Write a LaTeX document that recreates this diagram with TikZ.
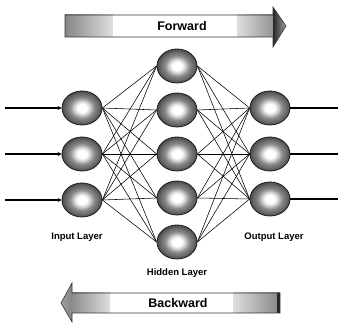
\documentclass[tikz,border=0pt]{standalone}
\usepackage{fontspec}
\setmainfont{Liberation Sans}
\usetikzlibrary{shapes.geometric,arrows.meta}

% grey ball with a soft white core
\pgfdeclareradialshading{neuronball}{\pgfpoint{0bp}{0bp}}{%
  color(0bp)=(white); color(6bp)=(white); color(11bp)=(gray!45);
  color(15bp)=(gray!90); color(21bp)=(gray!80!black); color(25bp)=(gray!60!black);
  color(50bp)=(gray!60!black)}

\tikzset{
  neuron/.style={ellipse, draw=black!90, line width=0.8pt,
    minimum width=40pt, minimum height=34pt, inner sep=0pt, shading=neuronball},
  link/.style={draw=black, line width=0.55pt},
  feed/.style={draw=black, line width=1.6pt},
  layerlabel/.style={font=\bfseries\fontsize{9.5}{10}\selectfont, inner sep=0pt},
  arrowlabel/.style={font=\bfseries\fontsize{12.5}{13}\selectfont, inner sep=0pt},
  shell/.style={draw=black!80, line width=0.6pt}
}

\begin{document}
\begin{tikzpicture}[x=1pt,y=-1pt]
\useasboundingbox (0,0) rectangle (338,323);

% ---- Forward arrow ----
\shade[left color=gray!95, right color=gray!25] (65,15) rectangle (113,37);
\fill[white] (113,15) rectangle (237,37);
\shade[left color=gray!25, right color=gray!85] (237,15) rectangle (273,37);
\shade[left color=black!85, right color=gray!75] (273,7) -- (286,26) -- (273,47) -- cycle;
\draw[shell] (65,15) -- (273,15) -- (273,7) -- (286,26) -- (273,47) -- (273,37) -- (65,37) -- cycle;
\node[arrowlabel] (fwd) at (182,26) {Forward};

% ---- Backward arrow ----
\shade[left color=gray!75, right color=gray!95] (61,303) -- (72,283) -- (72,322) -- cycle;
\shade[left color=gray!90, right color=gray!25] (72,293) rectangle (110,313);
\fill[white] (110,293) rectangle (233,313);
\shade[left color=gray!25, right color=gray!95] (233,293) rectangle (280,313);
\fill[black!85] (277,293) rectangle (280,313);
\draw[shell] (280,293) -- (72,293) -- (72,283) -- (61,303) -- (72,322) -- (72,313) -- (280,313) -- cycle;
\node[arrowlabel] (bwd) at (178,303) {Backward};

% ---- neurons ----
\foreach \i/\y in {1/108,2/154,3/200}
  \node[neuron] (in\i) at (82,\y) {};
\foreach \i/\y in {1/66,2/110,3/154,4/198,5/242}
  \node[neuron] (hid\i) at (177,\y) {};
\foreach \i/\y in {1/108,2/154,3/199}
  \node[neuron] (out\i) at (270,\y) {};

% ---- connections ----
\foreach \i in {1,2,3}
  \foreach \j in {1,...,5}
    \draw[link] (in\i.east) -- (hid\j.west);
\foreach \j in {1,...,5}
  \foreach \k in {1,2,3}
    \draw[link] (hid\j.east) -- (out\k.west);

% ---- inputs and outputs ----
\foreach \i/\y in {1/108,2/154,3/200} {
  \coordinate (src\i) at (5,\y);
  \draw[feed, -{Stealth[length=4pt,width=4pt]}] (src\i) -- (in\i.west);
}
\foreach \k/\y in {1/108,2/154,3/199} {
  \coordinate (dst\k) at (338,\y);
  \draw[feed] (out\k.east) -- (dst\k);
}

% ---- layer labels ----
\node[layerlabel] (lin) at (77,237) {Input Layer};
\node[layerlabel] (lhid) at (177,273) {Hidden Layer};
\node[layerlabel] (lout) at (274,237) {Output Layer};
\end{tikzpicture}
\end{document}
